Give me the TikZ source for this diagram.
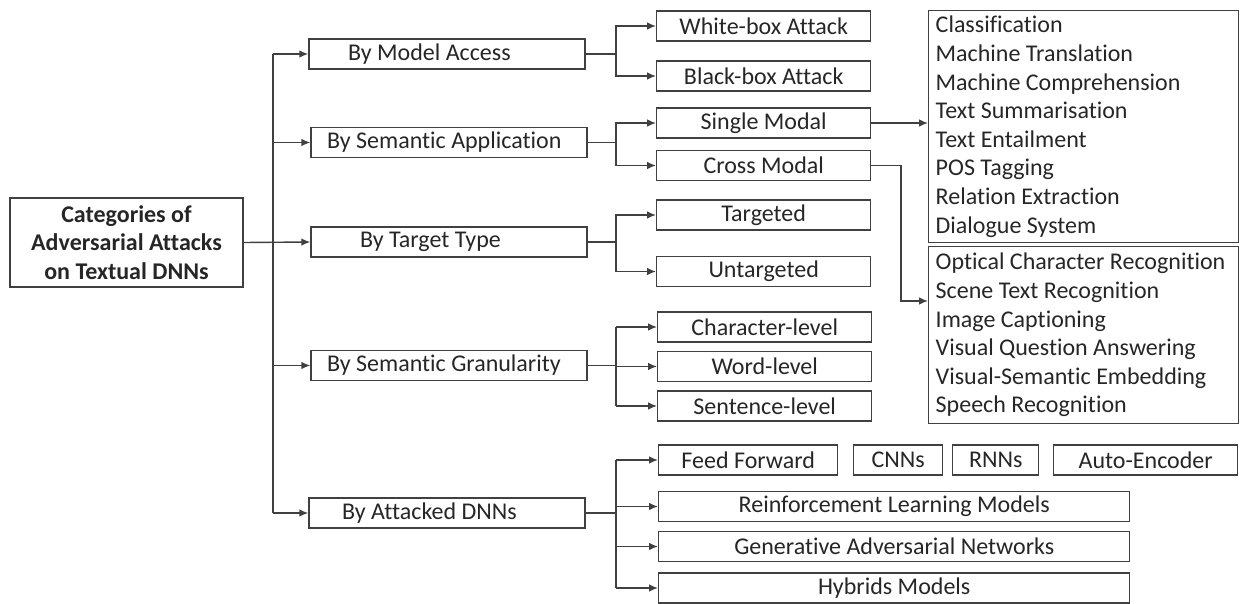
\documentclass[tikz,border=0pt]{standalone}
\usepackage{fontspec}
\setmainfont{Carlito}[Ligatures=NoCommon]
\usetikzlibrary{arrows.meta,positioning}

\tikzset{
  box/.style={draw=black!75, line width=0.7pt, text=black!85, inner sep=0pt, minimum height=15pt},
  lvlone/.style={box, text width=138pt, align=flush left, execute at begin node={\hspace*{#1}}},
  lvltwo/.style={box, anchor=west, minimum width=107pt},
  modelbox/.style={box, anchor=west},
  listbox/.style={box, anchor=north west, align=flush left, text width=148pt, inner xsep=3.5pt},
  lnk/.style={draw=black!75, line width=0.7pt},
  arr/.style={lnk, -{Latex[length=4.5pt,width=3.8pt]}},
}

\begin{document}
\begin{tikzpicture}[x=0.5pt,y=-0.5pt,font=\fontsize{12}{14.3}\selectfont]
\useasboundingbox (0,0) rectangle (1241,604);

% Root
\node[box, font=\bfseries\fontsize{12}{14.3}\selectfont, align=center,
  minimum width=116.5pt, minimum height=44.5pt] (root) at (126.5,242.5)
  {Categories of\\Adversarial Attacks\\on Textual DNNs};

% First level
\node[lvlone=19.5pt] (access) at (447,54)    {By Model Access};
\node[lvlone=8pt]    (appl)   at (449,142.5) {By Semantic Application};
\node[lvlone=24.5pt] (target) at (449,242)   {By Target Type};
\node[lvlone=8pt]    (gran)   at (449,365.5) {By Semantic Granularity};
\node[lvlone=16.5pt] (dnns)   at (447,513)   {By Attacked DNNs};

% Second level
\node[lvltwo] (white)    at (656,26)    {White-box Attack};
\node[lvltwo] (black)    at (656,76)    {Black-box Attack};
\node[lvltwo] (single)   at (656,123)   {Single Modal};
\node[lvltwo] (cross)    at (656,165.5) {Cross Modal};
\node[lvltwo] (targeted) at (656,215)   {Targeted};
\node[lvltwo] (untarg)   at (656,271.5) {Untargeted};
\node[lvltwo] (charlvl)  at (657,327)   {Character-level};
\node[lvltwo] (wordlvl)  at (657,366.5) {Word-level};
\node[lvltwo] (sentlvl)  at (657,406)   {Sentence-level};

% Attacked models
\node[modelbox, minimum width=89.5pt] (ff)  at (658,460)  {Feed Forward};
\node[modelbox, minimum width=44.5pt] (cnn) at (853,460)  {CNNs};
\node[modelbox, minimum width=43pt]   (rnn) at (952,460)  {RNNs};
\node[modelbox, minimum width=92pt]   (ae)  at (1053,460) {Auto-Encoder};
\node[modelbox, minimum width=235.5pt] (rl)  at (658,506.5) {Reinforcement Learning Models};
\node[modelbox, minimum width=235.5pt] (gan) at (658,546.5) {Generative Adversarial Networks};
\node[modelbox, minimum width=235.5pt] (hyb) at (658,588)   {Hybrids Models};

% Application lists
\node[listbox, minimum height=116pt] (tasks) at (928,10)
  {Classification\\Machine Translation\\Machine Comprehension\\Text Summarisation\\Text Entailment\\POS Tagging\\Relation Extraction\\Dialogue System};
\node[listbox, minimum height=88.5pt] (cmtasks) at (928,246)
  {Optical Character Recognition\\Scene Text Recognition\\Image Captioning\\Visual Question Answering\\Visual-Semantic Embedding\\Speech Recognition};

% Trunk
\coordinate (trunk) at (273,0);
\draw[lnk] (access.west -| trunk) -- (dnns.west -| trunk);
\foreach \n in {access,appl,gran,dnns}
  \draw[arr] (\n.west -| trunk) -- (\n.west);
\draw[arr] (root.east) -- (target.west);

% Forks
\coordinate (fork) at (616,0);
\draw[arr] (access.east) -- (access.east -| fork) |- (white.west);
\draw[arr] (access.east -| fork) |- (black.west);
\draw[arr] (appl.east) -- (appl.east -| fork) |- (single.west);
\draw[arr] (appl.east -| fork) |- (cross.west);
\draw[arr] (target.east) -- (target.east -| fork) |- (targeted.west);
\draw[arr] (target.east -| fork) |- (untarg.west);
\draw[lnk] (gran.east) -- (gran.east -| fork);
\draw[lnk] (charlvl.west -| fork) -- (sentlvl.west -| fork);
\foreach \n in {charlvl,wordlvl,sentlvl}
  \draw[arr] (\n.west -| fork) -- (\n.west);
\draw[lnk] (dnns.east) -- (dnns.east -| fork);
\draw[lnk] (ff.west -| fork) -- (hyb.west -| fork);
\foreach \n in {ff,rl,gan,hyb}
  \draw[arr] (\n.west -| fork) -- (\n.west);

% To the lists
\coordinate (crossbend) at (901,0);
\coordinate (crossin) at (928,301);
\draw[arr] (single.east) -- (single.east -| tasks.west);
\draw[arr] (cross.east) -- (cross.east -| crossbend) |- (crossin);

\end{tikzpicture}
\end{document}
